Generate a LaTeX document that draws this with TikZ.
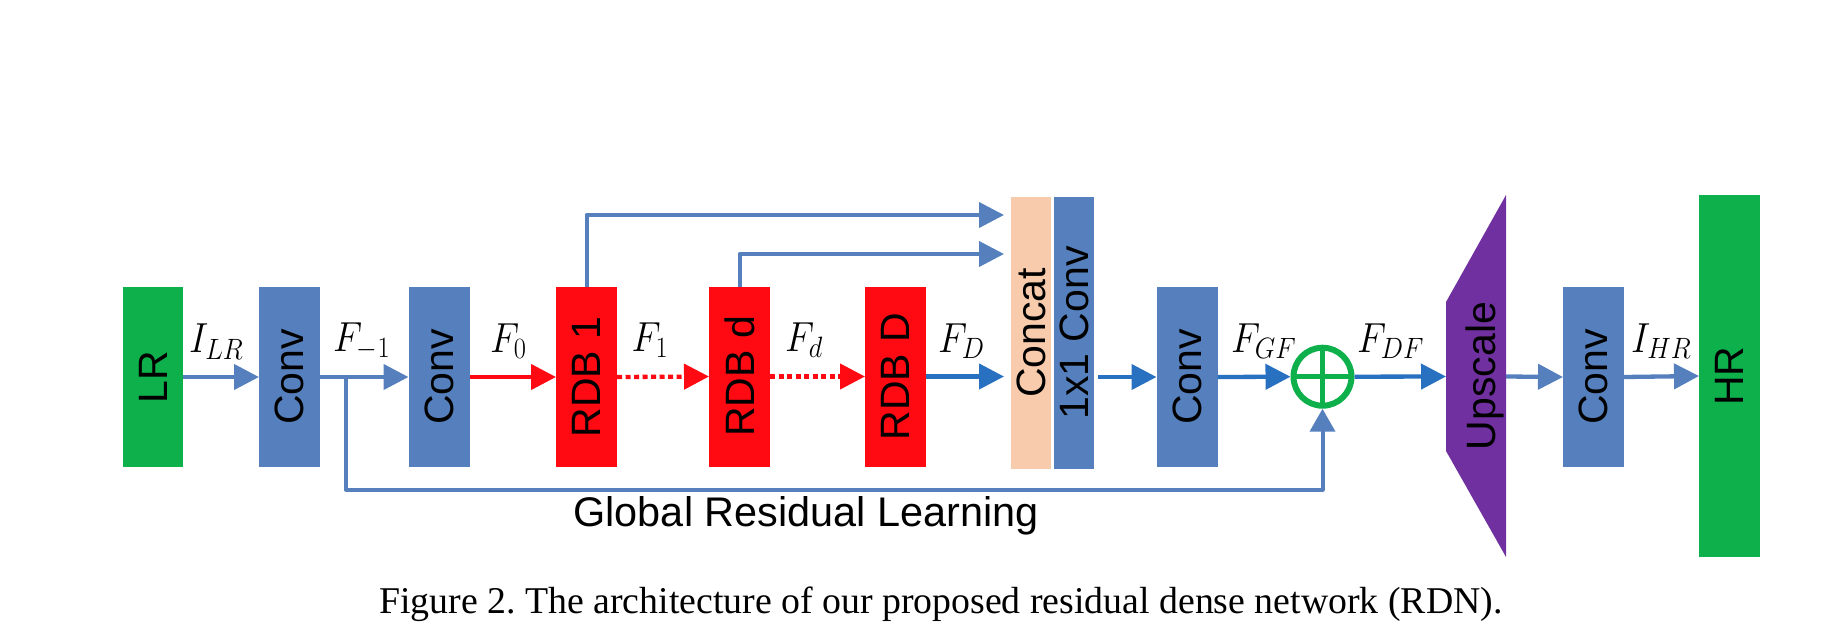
\documentclass[tikz,border=0pt]{standalone}
\usepackage{fix-cm}
\usepackage{fontspec}
\usepackage{graphicx}
\newfontfamily\sansf{Liberation Sans}
\newfontfamily\serf{Liberation Serif}
\usetikzlibrary{arrows.meta,calc}
\definecolor{bxblue}{RGB}{85,128,189}
\definecolor{dkblue}{RGB}{40,112,192}
\definecolor{grn}{RGB}{13,176,75}
\definecolor{rdb}{RGB}{255,10,18}
\definecolor{peach}{RGB}{248,203,173}
\definecolor{purp}{RGB}{112,48,160}
\newcommand{\mlb}[1]{\scalebox{0.9}[1]{$#1$}}
\tikzset{
  blk/.style={rectangle, inner sep=0pt, outer sep=0pt, minimum width=61pt, minimum height=180pt,
              font=\sansf\fontsize{41}{41}\selectfont},
  arr/.style={line width=4.3pt, -{Triangle[length=25pt,width=25pt]}},
  lnk/.style={arr, draw=bxblue, line join=round},
  dlnk/.style={arr, draw=dkblue},
  rlnk/.style={arr, draw=rdb},
  dotlnk/.style={rlnk, dash pattern=on 5pt off 3.5pt},
  mlab/.style={inner sep=0pt, outer sep=0pt, anchor=base west, font=\fontsize{42}{44}\selectfont},
}
\begin{document}
\frenchspacing
\begin{tikzpicture}[x=1pt,y=-1pt]
\useasboundingbox (0,0) rectangle (1846,635);

% blocks
\node[blk, fill=grn, minimum width=60pt] (lr) at (153,377) {\rotatebox{90}{LR}};
\node[blk, fill=bxblue] (c1) at (289.5,377) {\rotatebox{90}{Conv}};
\node[blk, fill=bxblue] (c2) at (439,377) {\rotatebox{90}{Conv}};
\node[blk, fill=rdb] (r1) at (586.5,377) {\rotatebox{90}{RDB 1}};
\node[blk, fill=rdb] (rd) at (739.5,376.5) {\rotatebox{90}{RDB d}};
\node[blk, fill=rdb] (rD) at (895.5,376.5) {\rotatebox{90}{RDB D}};
\node[blk, fill=peach, minimum width=40pt, minimum height=272pt] (cat) at (1031,333) {\rotatebox{90}{Concat}};
\node[blk, fill=bxblue, minimum width=40pt, minimum height=272pt] (c11) at (1074,333) {\rotatebox{90}{1x1 Conv}};
\node[blk, fill=bxblue] (c3) at (1187,377) {\rotatebox{90}{Conv}};
\node[circle, draw=grn, line width=6pt, minimum size=58pt, inner sep=0pt, outer sep=3pt] (sum) at (1322.5,376.7) {};
\draw[grn, line width=5.5pt] ($(sum.center)+(0,-29)$) -- ($(sum.center)+(0,29)$);
\draw[grn, line width=5.5pt] ($(sum.center)+(-29,0)$) -- ($(sum.center)+(29,0)$);
\fill[purp] (1446,302) -- (1506,195) -- (1506,557) -- (1446,451) -- cycle;
\node[rectangle, inner sep=0pt, outer sep=0pt, minimum width=60pt, minimum height=149pt] (up) at (1476,376.5) {};
\node[inner sep=0pt, font=\sansf\fontsize{41}{41}\selectfont] (uptxt) at (1485,376) {\rotatebox{90}{Upscale}};
\node[blk, fill=bxblue] (c4) at (1593.5,377) {\rotatebox{90}{Conv}};
\node[blk, fill=grn, minimum width=61pt, minimum height=362pt] (hr) at (1729.5,376) {\rotatebox{90}{HR}};

% connectors
\coordinate (j) at (345.7,377);
\coordinate (gb) at (1322.5,489.5);
\coordinate (t1) at (1011,215);
\coordinate (t2) at (1011,254);
\draw[lnk] (lr.east) -- (c1.west);
\draw[lnk] (c1.east) -- (c2.west);
\draw[bxblue, line width=4pt, line join=round, -{Triangle[length=23pt,width=25pt]}] (j) |- (gb) -- (sum.south);
\draw[rlnk] (c2.east) -- (r1.west);
\draw[dotlnk] (r1.east) -- (rd.west);
\draw[dotlnk] (rd.east) -- (rD.west);
\draw[dlnk, shorten >=7pt] (rD.east) -- (cat.west |- rD.east);
\draw[lnk, line width=4pt, shorten >=7pt] (r1.north) |- (t1);
\draw[lnk, line width=4pt, shorten >=7pt] (rd.north) |- (t2);
\draw[dlnk, shorten <=4pt] (c11.east |- c3.west) -- (c3.west);
\draw[dlnk] (c3.east) -- (sum.west);
\draw[dlnk] (sum.east) -- (up.west);
\draw[lnk] (up.east) -- (c4.west);
\draw[lnk] (c4.east) -- (hr.west);

% labels
\node[mlab] (lILR) at (189,352.7) {\mlb{I_{LR}}};
\node[mlab] (lFm1) at (333,351) {\mlb{F_{-1}}};
\node[mlab] (lF0) at (490,352) {\mlb{F_{0}}};
\node[mlab] (lF1) at (631.7,351) {\mlb{F_{1}}};
\node[mlab] (lFd) at (785,351) {\mlb{F_{d}}};
\node[mlab] (lFD) at (938,352) {\mlb{F_{D}}};
\node[mlab] (lFGF) at (1231,352) {\mlb{F_{GF}}};
\node[mlab] (lFDF) at (1357,352) {\mlb{F_{DF}}};
\node[mlab] (lIHR) at (1631,352) {\mlb{I_{HR}}};

\node[inner sep=0pt, anchor=base, font=\sansf\fontsize{41.4}{42}\selectfont] (grl) at (806,526) {Global Residual Learning};
\node[inner sep=0pt, anchor=base, font=\serf\fontsize{37.8}{40}\selectfont] (cap) at (941,613.3) {Figure 2. The architecture of our proposed residual dense network (RDN).};
\end{tikzpicture}
\end{document}
